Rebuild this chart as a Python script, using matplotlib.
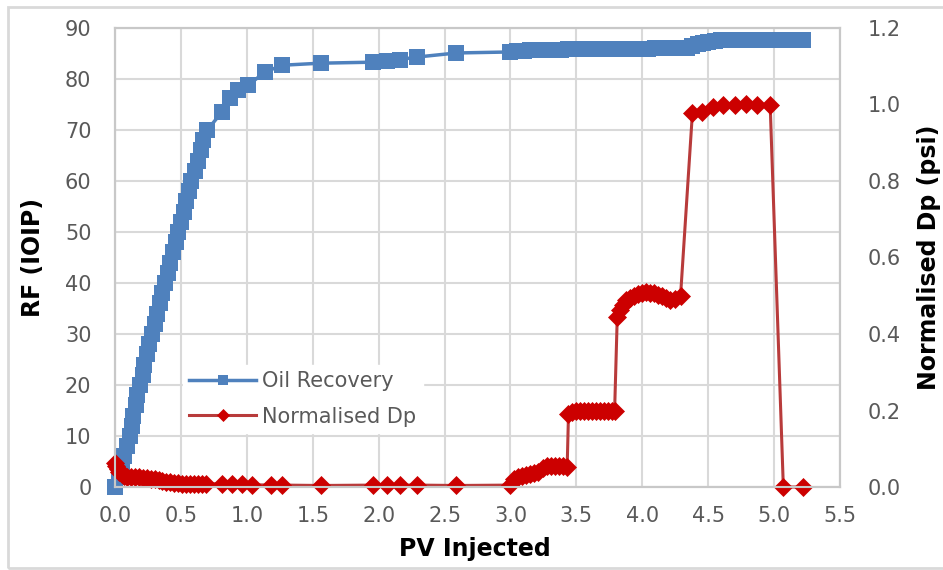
import matplotlib
matplotlib.use("Agg")
from matplotlib import pyplot as plt
from matplotlib.patches import Rectangle

# Oil recovery (RF, % IOIP) vs PV injected
pv_oil = [0.00, 0.03, 0.05, 0.07, 0.09, 0.11, 0.13, 0.14, 0.16, 0.17,
          0.19, 0.21, 0.22, 0.24, 0.26, 0.28, 0.30, 0.32, 0.34, 0.36,
          0.38, 0.40, 0.42, 0.44, 0.46, 0.48, 0.50, 0.52, 0.54, 0.56,
          0.58, 0.61, 0.63, 0.65, 0.67, 0.70,
          0.81, 0.87, 0.93, 1.01, 1.14, 1.27, 1.56, 1.96, 2.06, 2.16, 2.29, 2.59,
          3.00, 3.05, 3.10, 3.15, 3.20, 3.26, 3.32, 3.38, 3.44, 3.50,
          3.56, 3.62, 3.68, 3.74, 3.80, 3.86, 3.92, 3.98, 4.04, 4.10,
          4.16, 4.22, 4.28, 4.34, 4.38, 4.42, 4.46, 4.50, 4.55, 4.60,
          4.65, 4.70, 4.75, 4.80, 4.85, 4.90, 4.95, 5.00, 5.05, 5.12, 5.22]
rf_oil = [0, 2, 4, 6, 8, 10, 12, 14, 16, 18,
          20, 22, 24, 26, 28, 30, 32, 34, 36, 38,
          40, 42, 44, 46, 48, 50, 52, 54, 56, 58,
          60, 62, 64, 66, 68, 70,
          73.5, 76.3, 77.8, 78.8, 81.4, 82.7, 83.1, 83.3, 83.5, 83.8, 84.3, 85.1,
          85.3, 85.4, 85.5, 85.6, 85.6, 85.7, 85.7, 85.7, 85.8, 85.8,
          85.8, 85.8, 85.8, 85.9, 85.9, 85.9, 85.9, 85.9, 85.9, 86.0,
          86.0, 86.0, 86.0, 86.1, 86.4, 86.8, 87.1, 87.3, 87.5, 87.6,
          87.6, 87.7, 87.7, 87.7, 87.7, 87.7, 87.7, 87.7, 87.7, 87.7, 87.7]

# Normalised pressure drop vs PV injected
pv_dp = [0.00, 0.01, 0.02, 0.03, 0.05, 0.07, 0.09, 0.12, 0.15, 0.18,
         0.21, 0.24, 0.27, 0.30, 0.33, 0.36, 0.39, 0.42, 0.45, 0.48,
         0.51, 0.54, 0.57, 0.60, 0.63, 0.66, 0.69,
         0.81, 0.89, 0.96, 1.04, 1.18, 1.27, 1.56, 1.96, 2.06, 2.16, 2.29, 2.59,
         3.00, 3.03, 3.06, 3.09, 3.12, 3.15, 3.18, 3.21, 3.25, 3.28,
         3.31, 3.34, 3.37, 3.40, 3.43,
         3.44, 3.47, 3.50, 3.53, 3.56, 3.59, 3.62, 3.65, 3.68, 3.71,
         3.74, 3.77, 3.79,
         3.81, 3.83, 3.85, 3.88, 3.91, 3.94, 3.97, 4.00, 4.03, 4.06,
         4.09, 4.12, 4.15, 4.18, 4.21, 4.25, 4.29,
         4.38, 4.45, 4.54, 4.61, 4.70, 4.79, 4.87, 4.97,
         5.07, 5.22]
dp_norm = [0.062, 0.055, 0.046, 0.039, 0.033, 0.029, 0.027, 0.026, 0.025, 0.025,
           0.024, 0.023, 0.022, 0.020, 0.018, 0.016, 0.014, 0.012, 0.011, 0.010,
           0.009, 0.009, 0.009, 0.009, 0.009, 0.009, 0.009,
           0.008, 0.008, 0.007, 0.006, 0.005, 0.005, 0.004, 0.005, 0.005, 0.005, 0.005, 0.004,
           0.005, 0.022, 0.027, 0.030, 0.032, 0.034, 0.036, 0.040, 0.050, 0.055,
           0.056, 0.056, 0.055, 0.054, 0.053,
           0.190, 0.196, 0.198, 0.199, 0.199, 0.199, 0.200, 0.200, 0.200, 0.200,
           0.200, 0.200, 0.200,
           0.445, 0.462, 0.476, 0.488, 0.495, 0.500, 0.505, 0.508, 0.509, 0.508,
           0.506, 0.503, 0.500, 0.495, 0.490, 0.492, 0.499,
           0.977, 0.980, 0.994, 0.998, 0.999, 1.000, 0.998, 0.999,
           0.0, 0.0]

x_ticks = [0.0, 0.5, 1.0, 1.5, 2.0, 2.5, 3.0, 3.5, 4.0, 4.5, 5.0, 5.5]
rf_ticks = [0, 10, 20, 30, 40, 50, 60, 70, 80, 90]
dp_ticks = [0.0, 0.2, 0.4, 0.6, 0.8, 1.0, 1.2]

blue = "#4F81BD"
red = "#CC0000"
red_line = "#B83B3B"
grey_txt = "#595959"

fig = plt.figure(figsize=(9.43, 5.70), dpi=100)
fig.patch.set_facecolor("white")
fig.patches.append(Rectangle((0.0085, 0.0035), 1.2, 0.984, transform=fig.transFigure,
                             fill=False, edgecolor="#D9D9D9", linewidth=2))

ax = fig.add_axes([0.122, 0.1456, 0.7688, 0.8053])
ax2 = ax.twinx()

ax.plot(pv_oil, rf_oil, color=blue, lw=2.5, marker="s", markersize=11,
        markeredgewidth=0, label="Oil Recovery", clip_on=False)
ax2.plot(pv_dp, dp_norm, color=red_line, lw=2.2, marker="D", markersize=9,
         markerfacecolor=red, markeredgecolor=red, markeredgewidth=0.5,
         label="Normalised Dp", clip_on=False)

ax.set_xlim(0.0, 5.5)
ax.set_ylim(0, 90)
ax2.set_ylim(0, 1.2)
ax.set_xticks(x_ticks)
ax.set_xticklabels([f"{v:.1f}" for v in x_ticks])
ax.set_yticks(rf_ticks)
ax2.set_yticks(dp_ticks)
ax2.set_yticklabels([f"{v:.1f}" for v in dp_ticks])

ax.grid(True, color="#D9D9D9", lw=1.5)
ax.set_axisbelow(True)
for a in (ax, ax2):
    for s in a.spines.values():
        s.set_color("#C8C8C8")
        s.set_linewidth(1.5)
ax.tick_params(axis="x", length=0, pad=14, labelsize=15, labelcolor=grey_txt)
ax.tick_params(axis="y", length=0, pad=17, labelsize=15, labelcolor=grey_txt)
ax2.tick_params(axis="y", length=0, pad=20, labelsize=15, labelcolor=grey_txt)

ax.set_xlabel("PV Injected", fontsize=17, fontweight="bold")
ax.set_ylabel("RF (IOIP)", fontsize=17, fontweight="bold")
ax2.set_ylabel("Normalised Dp (psi)", fontsize=17, fontweight="bold")
ax.xaxis.set_label_coords(0.497, -0.108)
ax.yaxis.set_label_coords(-0.097, 0.5)
ax2.yaxis.set_label_coords(1.106, 0.5)

h1, l1 = ax.get_legend_handles_labels()
h2, l2 = ax2.get_legend_handles_labels()
leg = ax2.legend(h1 + h2, l1 + l2, loc="upper left", bbox_to_anchor=(0.094, 0.266),
                 borderaxespad=0, fontsize=15, frameon=True, fancybox=False,
                 framealpha=1, edgecolor="white", handlelength=3.2, handletextpad=0.3,
                 markerscale=0.7, labelspacing=0.75, borderpad=0.3)
for t in leg.get_texts():
    t.set_color(grey_txt)

fig.savefig("out.png", dpi=100)
